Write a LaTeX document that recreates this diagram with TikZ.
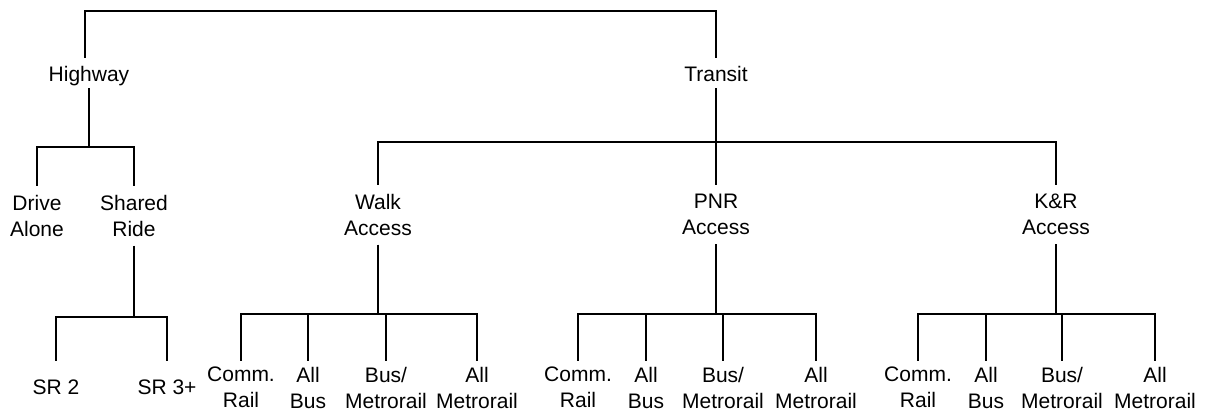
\documentclass[tikz,border=0pt]{standalone}
\usepackage{fontspec}
\setmainfont{Liberation Sans}
\begin{document}
\begin{tikzpicture}[x=1pt,y=-1pt,line join=miter,
  lbl/.style={font=\fontsize{21}{26}\selectfont, inner sep=0pt},
  one/.style={lbl, anchor=base, text height=24pt, text depth=6pt},
  two/.style={lbl, align=center, anchor=north, inner xsep=0pt, inner ysep=9pt},
  leaf/.style={lbl, align=center, anchor=north, inner xsep=0pt, inner ysep=6pt},
  srbox/.style={lbl, anchor=base, text height=33pt, text depth=0pt},
  conn/.style={draw=black, line width=2pt}]
\useasboundingbox (0,0) rectangle (1206,411);
% nodes
\node[one] (hw) at (89,82) {Highway};
\node[one] (tr) at (716,82) {Transit};
\node[two] (da) at (37,186) {Drive\\Alone};
\node[two] (sh) at (134,186) {Shared\\Ride};
\node[srbox] (s2) at (56,394) {SR 2};
\node[srbox] (s3) at (167,394) {SR 3+};
\node[two] (wa) at (378,185) {Walk\\Access};
\node[two] (pa) at (716,185) {PNR\\Access};
\node[two] (ka) at (1056,185) {K\&R\\Access};
\node[leaf] (w1) at (241,361) {Comm.\\Rail};
\node[leaf] (w2) at (308,361) {All\\Bus};
\node[leaf] (w3) at (386,361) {Bus/\\Metrorail};
\node[leaf] (w4) at (477,361) {All\\Metrorail};
\node[leaf] (p1) at (578,361) {Comm.\\Rail};
\node[leaf] (p2) at (646,361) {All\\Bus};
\node[leaf] (p3) at (723,361) {Bus/\\Metrorail};
\node[leaf] (p4) at (816,361) {All\\Metrorail};
\node[leaf] (k1) at (918,361) {Comm.\\Rail};
\node[leaf] (k2) at (986,361) {All\\Bus};
\node[leaf] (k3) at (1062,361) {Bus/\\Metrorail};
\node[leaf] (k4) at (1155,361) {All\\Metrorail};
% bar levels
\coordinate (y0) at (0,11);
\coordinate (y1) at (0,147);
\coordinate (y2) at (0,142);
\coordinate (y3) at (0,317);
\coordinate (y4) at (0,314);
% connectors
\draw[conn] ([xshift=-4pt]hw.north) |- (y0 -| tr.north) -- (tr.north);
\draw[conn] (hw.south) |- (y1 -| da.north) -- (da.north);
\draw[conn] (hw.south) |- (y1 -| sh.north) -- (sh.north);
\draw[conn] (sh.south) |- (y3 -| s2.north) -- (s2.north);
\draw[conn] (sh.south) |- (y3 -| s3.north) -- (s3.north);
\draw[conn] (tr.south) |- (y2 -| wa.north) -- (wa.north);
\draw[conn] (tr.south) -- (pa.north);
\draw[conn] (tr.south) |- (y2 -| ka.north) -- (ka.north);
\foreach \p/\c in {wa/w1,wa/w2,wa/w3,wa/w4,pa/p1,pa/p2,pa/p3,pa/p4,ka/k1,ka/k2,ka/k3,ka/k4}
  \draw[conn] (\p.south) |- (y4 -| \c.north) -- (\c.north);
\end{tikzpicture}
\end{document}
